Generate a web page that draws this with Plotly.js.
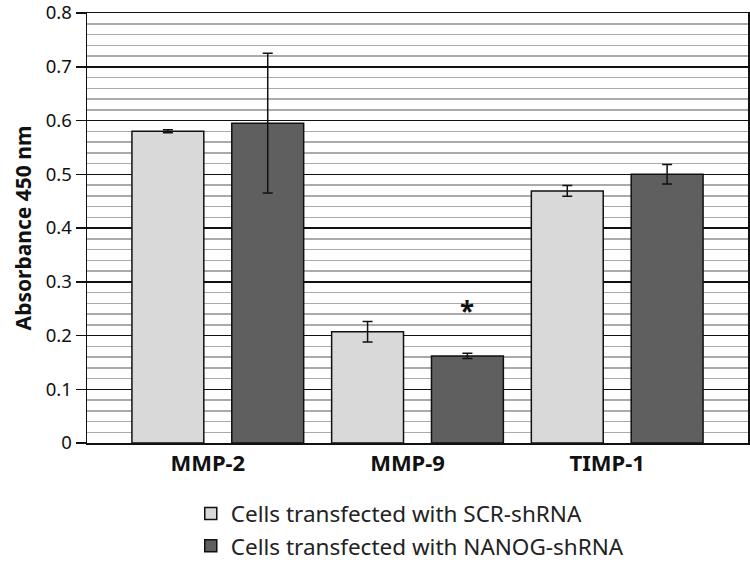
<!DOCTYPE html>
<html>
<head>
<meta charset="utf-8">
<script src="https://cdn.plot.ly/plotly-3.0.1.min.js"></script>
<style>html,body{margin:0;padding:0;background:#fff;}#chart{width:750px;height:565px;}</style>
</head>
<body>
<div id="chart"></div>
<script>
const categories = ["MMP-2", "MMP-9", "TIMP-1"];
const seriesNames = ["Cells transfected with SCR-shRNA", "Cells transfected with NANOG-shRNA"];
const scrValues = [0.580, 0.207, 0.469];
const scrErrors = [0.003, 0.019, 0.010];
const nanogValues = [0.595, 0.162, 0.500];
const nanogErrors = [0.130, 0.005, 0.018];
const yTickVals = [0, 0.1, 0.2, 0.3, 0.4, 0.5, 0.6, 0.7, 0.8];
const yTickText = ["0", "0.1", "0.2", "0.3", "0.4", "0.5", "0.6", "0.7", "0.8"];
const sigMarkCategory = 1;   // MMP-9
const sigMarkY = 0.246;

const xIdx = categories.map((c, i) => i);
const FONT = "Noto Sans, Open Sans, sans-serif";

function barTrace(name, vals, errs, color) {
  return {
    type: "bar",
    name: name,
    x: xIdx,
    y: vals,
    marker: { color: color, line: { color: "#111", width: 1.5 } },
    error_y: { type: "data", array: errs, visible: true, color: "#111", thickness: 1.5, width: 5 },
    legendgroup: name
  };
}

const data = [
  barTrace(seriesNames[0], scrValues, scrErrors, "#d9d9d9"),
  barTrace(seriesNames[1], nanogValues, nanogErrors, "#5f5f5f")
];

const layout = {
  width: 750, height: 565,
  margin: { l: 87, r: 2, t: 13, b: 122, autoexpand: false },
  paper_bgcolor: "#fff", plot_bgcolor: "#fff",
  font: { family: FONT, color: "#111" },
  barmode: "group",
  bargap: 0,
  bargroupgap: 0.28,
  showlegend: true,
  legend: {
    orientation: "v", x: 0.157, xanchor: "left", y: -0.115, yanchor: "top",
    font: { family: FONT, size: 22.5, color: "#222" },
    tracegroupgap: 3, traceorder: "normal",
    bgcolor: "rgba(0,0,0,0)"
  },
  xaxis: {
    range: [-0.655, 2.655],
    automargin: false,
    tickmode: "array",
    tickvals: xIdx.map(i => i - 0.05),
    ticktext: categories,
    ticks: "",
    showgrid: false, zeroline: false,
    showline: true, linecolor: "#111", linewidth: 1.5, mirror: true,
    tickfont: { family: FONT, size: 22, color: "#111", weight: "bold" }
  },
  yaxis: {
    range: [0, 0.8],
    automargin: false,
    tickmode: "array",
    tickvals: yTickVals,
    ticktext: yTickText,
    ticks: "outside", ticklen: 10, tickwidth: 1.5, tickcolor: "#111",
    ticklabeloverflow: "allow",
    showline: true, linecolor: "#111", linewidth: 1.5, mirror: true,
    showgrid: true, gridcolor: "#111", gridwidth: 1.5,
    zeroline: false,
    minor: { dtick: 0.02, showgrid: true, gridcolor: "#aaaaaa", gridwidth: 1.5, ticks: "" },
    tickfont: { family: FONT, size: 18.5, color: "#111" },
    title: { text: "Absorbance 450 nm", standoff: 8, font: { family: FONT, size: 21, color: "#111", weight: "bold" } }
  },
  annotations: [{
    x: sigMarkCategory + 0.25, y: sigMarkY, xref: "x", yref: "y",
    text: "<b>*</b>", showarrow: false,
    font: { family: FONT, size: 26, color: "#111" }
  }]
};

Plotly.newPlot("chart", data, layout, { displayModeBar: false, staticPlot: true });
</script>
</body>
</html>
